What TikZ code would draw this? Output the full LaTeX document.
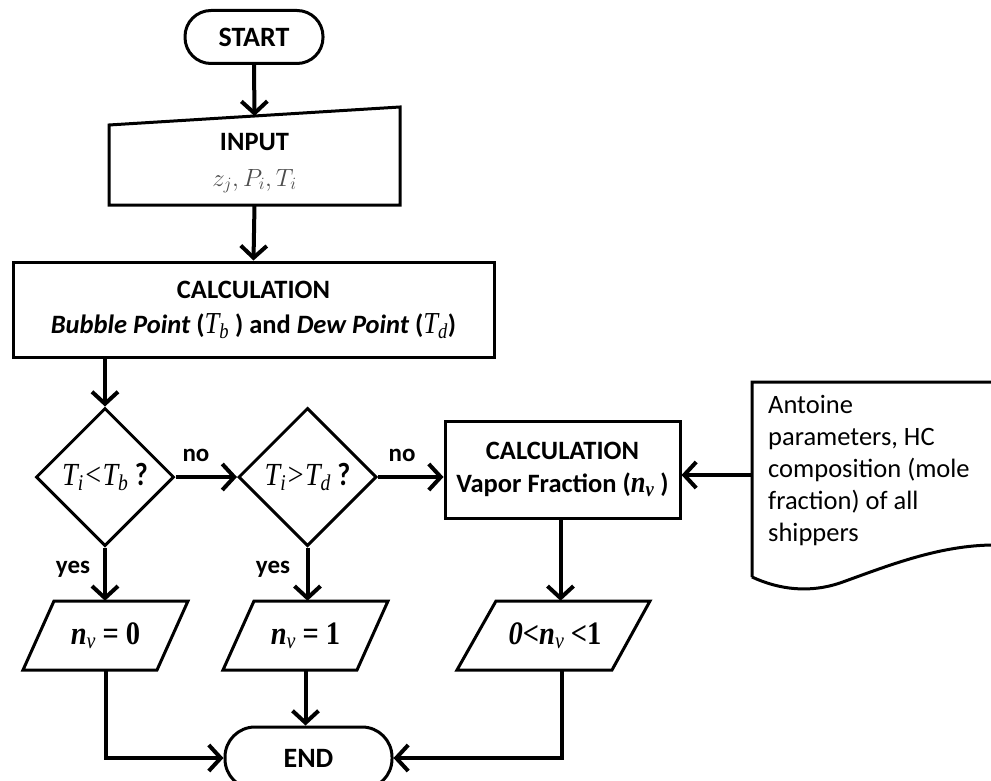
\documentclass[tikz,border=0pt]{standalone}
\usepackage{fontspec}
\usepackage{graphicx}
\setmainfont{Carlito}
\newfontfamily\tnr{Liberation Serif}
\usetikzlibrary{shapes.geometric,arrows.meta,calc}
\newcommand\tsub[2]{{\tnr\mdseries\itshape #1\textsubscript{#2}}}
\newcommand\vstretch[1]{\scalebox{1}[1.15]{#1}}
\begin{document}
\begin{tikzpicture}[x=1pt,y=-1pt,
  every node/.style={font=\fontsize{26.5}{32}\selectfont, inner sep=0pt},
  outl/.style={draw, line width=3pt},
  box/.style={outl, rectangle, align=center},
  terminal/.style={outl, rectangle, font=\fontsize{28}{32}\selectfont\bfseries},
  decision/.style={outl, diamond, minimum width=138pt, minimum height=138pt, font=\fontsize{28}{32}\selectfont},
  iotext/.style={rectangle, minimum height=69pt, font=\fontsize{28.5}{32}\selectfont},
  shapeline/.style={line width=3pt, line join=miter},
  flow/.style={line width=4pt, -{Straight Barb[length=12pt,width=26pt]}},
  lab/.style={font=\fontsize{25}{30}\selectfont\bfseries}
]
\useasboundingbox (0,0) rectangle (991,781);
\fill[white] (0,0) rectangle (991,781);

% start
\node[terminal, minimum width=138pt, minimum height=53pt, rounded corners=26pt] (start) at (254,37) {START};

% input (manual input shape)
\node[align=center] (input) at (254.5,163) {\bfseries INPUT\\[4pt]{\color{black!70}\fontsize{25}{30}\selectfont$z_j, P_i, T_i$}};
\draw[shapeline] ($(input)+(-145.5,-38)$) -- ($(input)+(145.5,-56)$) -- ($(input)+(145.5,42)$) -- ($(input)+(-145.5,42)$) -- cycle;
\coordinate (inputtop) at ($(input)+(0,-47)$);
\coordinate (inputbot) at ($(input)+(0,42)$);

% calculation 1
\node[box, minimum width=481pt, minimum height=95pt] (calc1) at (253.5,309.5)
  {\bfseries CALCULATION\\[3pt]\bfseries\itshape Bubble Point \upshape(\vstretch{\tsub{T}{b}} ) and \itshape Dew Point \upshape(\vstretch{\tsub{T}{d}})};

% decisions
\node[decision] (d1) at (105,477) {\vstretch{{\tnr\itshape T\textsubscript{i}<T\textsubscript{b}} \textbf{?}}};
\node[decision] (d2) at (307.5,477) {\vstretch{{\tnr\itshape T\textsubscript{i}>T\textsubscript{d}} \textbf{?}}};

% calculation 2
\node[box, minimum width=235pt, minimum height=97pt] (calc2) at (562.5,469.5)
  {\bfseries CALCULATION\\[1pt]\bfseries Vapor Fraction (\vstretch{{\tnr\itshape n\textsubscript{v}}} )};

% document
\node[anchor=north west, align=left] (doc) at (768,395)
  {Antoine\\parameters, HC\\composition (mole\\fraction) of all\\shippers};
\draw[shapeline] (752,577) -- (752,382) -- (1000,382) -- (1000,545) -- (995,545)
  .. controls (940,545) and (890,565) .. (840,583)
  .. controls (810,593) and (780,590) .. (752,577);
\coordinate (docleft) at (752,475);

% outputs (parallelograms)
\node[iotext] (p1) at (105.5,635.5) {\vstretch{{\tnr\bfseries\itshape n\textsubscript{\mdseries v}} {\tnr\bfseries = 0}}};
\draw[shapeline] ($(p1)+(-51.5,-34.5)$) -- ($(p1)+(82.5,-34.5)$) -- ($(p1)+(51.5,34.5)$) -- ($(p1)+(-82.5,34.5)$) -- cycle;
\node[iotext] (p2) at (305.5,635.5) {\vstretch{{\tnr\bfseries\itshape n\textsubscript{\mdseries v}} {\tnr\bfseries = 1}}};
\draw[shapeline] ($(p2)+(-51.5,-34.5)$) -- ($(p2)+(82.5,-34.5)$) -- ($(p2)+(51.5,34.5)$) -- ($(p2)+(-82.5,34.5)$) -- cycle;
\node[iotext] (p3) at (555,635.5) {\vstretch{{\tnr\bfseries\itshape 0}{\tnr\bfseries <}{\tnr\bfseries\itshape n\textsubscript{\mdseries v}} {\tnr\bfseries <1}}};
\draw[shapeline] ($(p3)+(-59,-34.5)$) -- ($(p3)+(95,-34.5)$) -- ($(p3)+(57,34.5)$) -- ($(p3)+(-98,34.5)$) -- cycle;

% end
\node[terminal, minimum width=167pt, minimum height=62pt, rounded corners=30pt] (end) at (308.5,758) {END};

% connectors
\draw[flow] (start.south) -- (inputtop);
\draw[flow] (inputbot) -- (calc1.north);
\draw[flow] (calc1.south -| d1.north) -- (d1.north);
\draw[flow] (d1.east) -- (d2.west);
\draw[flow] (d2.east) -- (d2.east -| calc2.west);
\draw[flow] (docleft) -- (docleft -| calc2.east);
\draw[flow] (d1.south) -- (d1.south |- p1.north);
\draw[flow] (d2.south) -- (d2.south |- p2.north);
\draw[flow] ($(calc2.south)+(-2,0)$) -- ($(calc2.south |- p3.north)+(-2,0)$);
\draw[flow] (p1.south) -- (p1.south |- end.west) -- (end.west);
\draw[flow] (p2.south) -- (p2.south |- end.north);
\draw[flow] ($(p3.south)+(7,0)$) -- ($(p3.south |- end.east)+(7,0)$) -- (end.east);

% labels
\node[lab] (no1) at (196,455) {no};
\node[lab] (no2) at (402,455) {no};
\node[lab] (yes1) at (73,569) {yes};
\node[lab] (yes2) at (273,569) {yes};
\end{tikzpicture}
\end{document}
